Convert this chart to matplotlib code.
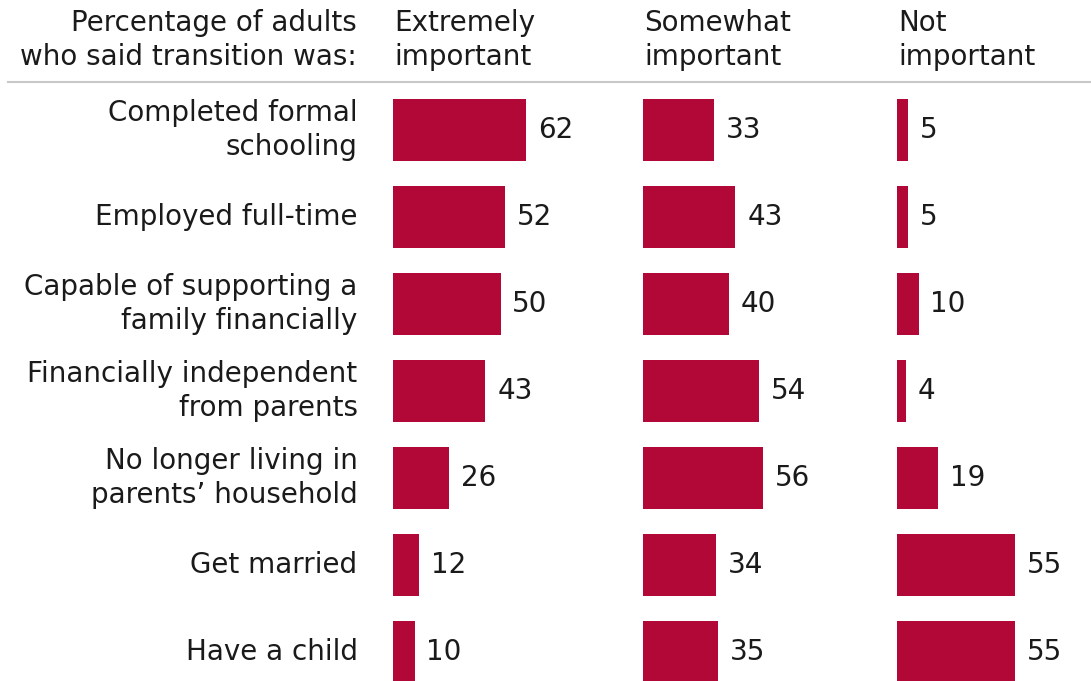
import matplotlib.pyplot as plt
from matplotlib.lines import Line2D

# transitions to adulthood, share of adults rating each as ...
transitions = ["Completed formal\nschooling", "Employed full-time",
               "Capable of supporting a\nfamily financially",
               "Financially independent\nfrom parents",
               "No longer living in\nparents\u2019 household",
               "Get married", "Have a child"]
extremely = [62, 52, 50, 43, 26, 12, 10]
somewhat = [33, 43, 40, 54, 56, 34, 35]
not_important = [5, 5, 10, 4, 19, 55, 55]
headers = ["Extremely\nimportant", "Somewhat\nimportant", "Not\nimportant"]

bar_color = "#B10838"
txt_color = "#1a1a1a"
fs = 20
ls = 1.28
W, H = 1091, 681
px_per_unit = 2.15
row_px = 87

fig = plt.figure(figsize=(W / 100, H / 100), dpi=100)

# panel positions in pixels (left, width)
panels = [(393, 240), (643, 250), (897, 194)]
series = [extremely, somewhat, not_important]
ax_top, ax_bot = 86, H
y0 = -(130 - ax_top) / row_px
y1 = y0 + (ax_bot - ax_top) / row_px

axes = []
for (left, width), vals, head in zip(panels, series, headers):
    ax = fig.add_axes([left / W, 1 - ax_bot / H, width / W, (ax_bot - ax_top) / H])
    ypos = list(range(len(vals)))
    ax.barh(ypos, vals, height=62 / row_px, color=bar_color, left=0)
    ax.set_xlim(0, width / px_per_unit)
    ax.set_ylim(y1, y0)
    for y, v in zip(ypos, vals):
        ax.annotate(str(v), (v, y), xytext=(8.5, 0), textcoords="offset points",
                    va="center", ha="left", fontsize=fs, color=txt_color)
    ax.axis("off")
    fig.text((left + 1) / W, 1 - 40 / H, head, ha="left", va="center",
             fontsize=fs, color=txt_color, linespacing=ls)
    axes.append(ax)

ax1 = axes[0]
for y, lab in enumerate(transitions):
    ax1.annotate(lab, (0, y), xycoords=("axes fraction", "data"),
                 xytext=(-25.5, 0), textcoords="offset points",
                 ha="right", va="center", fontsize=fs, color=txt_color,
                 linespacing=ls)

fig.text(357 / W, 1 - 40 / H, "Percentage of adults\nwho said transition was:",
         ha="right", va="center", fontsize=fs, color=txt_color, linespacing=ls)

fig.add_artist(Line2D([8 / W, 1], [1 - 82 / H, 1 - 82 / H], color="#c8c8c8",
                      linewidth=1.5, transform=fig.transFigure))

fig.savefig("out.png", dpi=100)
